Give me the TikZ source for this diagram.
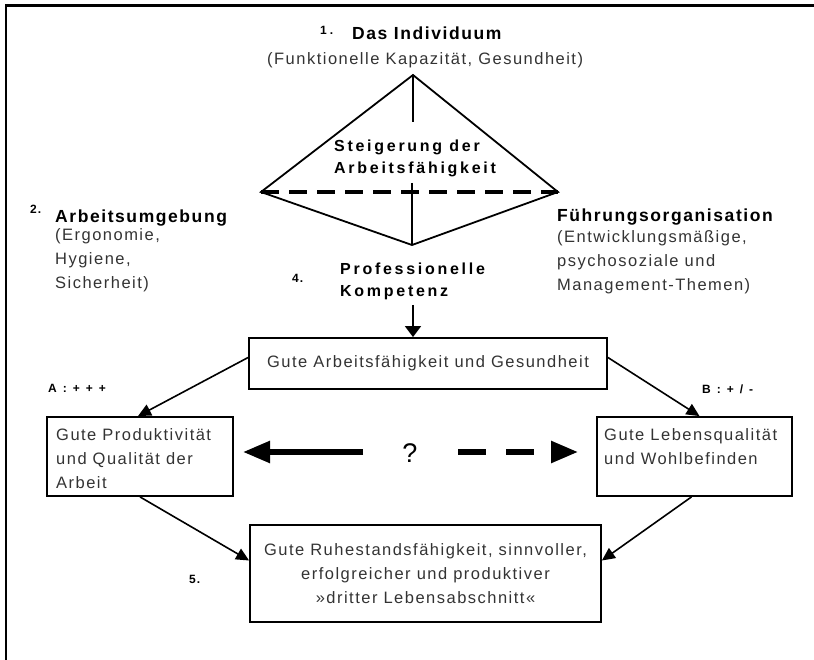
\documentclass[tikz,border=0pt]{standalone}
\usepackage{fontspec}
\setmainfont[LetterSpace=9]{Liberation Sans}
\newfontfamily\widesans[LetterSpace=17]{Liberation Sans}
\newfontfamily\tagsans[LetterSpace=22]{Liberation Sans}
\usetikzlibrary{arrows.meta}

\definecolor{bodygray}{gray}{0.2}

\begin{document}
\begin{tikzpicture}[x=1pt,y=-1pt,
  txt/.style={inner sep=0, text=bodygray, font=\fontsize{16.5}{24}\selectfont},
  head/.style={inner sep=0, text=black, font=\bfseries\fontsize{17.5}{21}\selectfont},
  midhead/.style={inner sep=0, text=black, font=\widesans\bfseries\fontsize{16}{21}\selectfont},
  num/.style={inner sep=0, text=black, font=\tagsans\bfseries\fontsize{12}{14}\selectfont},
  box/.style={draw, line width=1.8, inner sep=0},
  conn/.style={line width=1.6, -{Triangle[length=13,width=12]}},
  bigconn/.style={line width=5.5, -{Triangle[length=27,width=21]}},
]
\useasboundingbox (0,0) rectangle (814,660);

% outer frame (top and left edge)
\draw[line width=2.2] (6,660) -- (6,5.5) -- (814,5.5);

% ---- pyramid ----
\coordinate (apex) at (413,75);
\coordinate (dl) at (261,192);
\coordinate (dr) at (558,192);
\coordinate (dbot) at (412,245);
\coordinate (axtop) at (413,122);
\coordinate (axmid) at (412,183);
\draw[line width=1.8, line join=miter] (apex) -- (dr) -- (dbot) -- (dl) -- cycle;
\draw[line width=1.8] (apex) -- (axtop);
\draw[line width=1.8] (axmid) -- (dbot);
\draw[line width=3.5, dash pattern=on 18 off 10] (dl) -- (dr);

\node[midhead, anchor=base west] (steig1) at (334,151.7) {Steigerung der};
\node[midhead, anchor=base west] (steig2) at (334,173.3) {Arbeitsfähigkeit};

% ---- 1. individual ----
\node[num, anchor=base west] (n1) at (320,35) {1\kern3pt.};
\node[head, anchor=base west] (indiv) at (352,39.5) {Das Individuum};
\node[txt, anchor=base west] (indivsub) at (267,65) {(Funktionelle Kapazität, Gesundheit)};

% ---- 2. work environment ----
\node[num, anchor=base west] (n2) at (30,214) {2\kern1pt.};
\node[head, anchor=base west] (env) at (55,223) {Arbeitsumgebung};
\node[txt, anchor=base west] (env1) at (55,241) {(Ergonomie,};
\node[txt, anchor=base west] (env2) at (55,265) {Hygiene,};
\node[txt, anchor=base west] (env3) at (55,289) {Sicherheit)};

% ---- 3. management ----
\node[head, anchor=base west] (mgmt) at (557,222) {Führungsorganisation};
\node[txt, anchor=base west] (mgmt1) at (557,243) {(Entwicklungsmäßige,};
\node[txt, anchor=base west] (mgmt2) at (557,267) {psychosoziale und};
\node[txt, anchor=base west] (mgmt3) at (557,291) {Management-Themen)};

% ---- 4. professional competence ----
\node[num, anchor=base west] (n4) at (292,283) {4\kern1pt.};
\node[midhead, anchor=base west] (prof1) at (340,275) {Professionelle};
\node[midhead, anchor=base west] (prof2) at (340,297) {Kompetenz};

% ---- boxes ----
\node[box, txt, minimum width=358, minimum height=51] (main) at (428,363.5)
  {Gute Arbeitsfähigkeit und Gesundheit};

\node[box, minimum width=186, minimum height=79] (prod) at (140,456.5) {};
\node[txt, anchor=base west] (prod1) at (56,440) {Gute Produktivität};
\node[txt, anchor=base west] (prod2) at (56,464) {und Qualität der};
\node[txt, anchor=base west] (prod3) at (56,488) {Arbeit};

\node[box, minimum width=195, minimum height=79] (life) at (694.5,456.5) {};
\node[txt, anchor=base west] (life1) at (604,440) {Gute Lebensqualität};
\node[txt, anchor=base west] (life2) at (604,464) {und Wohlbefinden};

\node[box, txt, align=center, minimum width=351, minimum height=97] (ret) at (425.5,573.5)
  {Gute Ruhestandsfähigkeit, sinnvoller,\\erfolgreicher und produktiver\\»dritter Lebensabschnitt«};

\node[num, anchor=base west] (labA) at (48,392) {A : + + +};
\node[num, anchor=base west] (labB) at (702,393) {B : + / -};
\node[num, anchor=base west] (n5) at (189,583) {5\kern1pt.};

% ---- connectors ----
\coordinate (k0) at (413,305);
\draw[line width=1.6, -{Triangle[length=11,width=16]}] (k0) -- (k0 |- main.north);

\draw[conn] ([yshift=6]main.west) -- ([xshift=-2]prod.north);
\draw[conn] ([yshift=6]main.east) -- ([xshift=5]life.north);
\draw[conn] (prod.south) -- ([yshift=13]ret.west);
\draw[conn] ([xshift=-3]life.south) -- ([yshift=13]ret.east);

% ---- open question between productivity and well-being ----
\node[inner sep=0, text=black, font=\fontsize{27}{30}\selectfont] (q) at (410,453) {?};
\coordinate (sL) at (363,452);
\coordinate (eL) at (243,452);
\coordinate (sR) at (458,452);
\coordinate (eR) at (578,452);
\draw[bigconn] (sL) -- (eL);
\draw[bigconn, dash pattern=on 28 off 20] (sR) -- (eR);

\end{tikzpicture}
\end{document}
